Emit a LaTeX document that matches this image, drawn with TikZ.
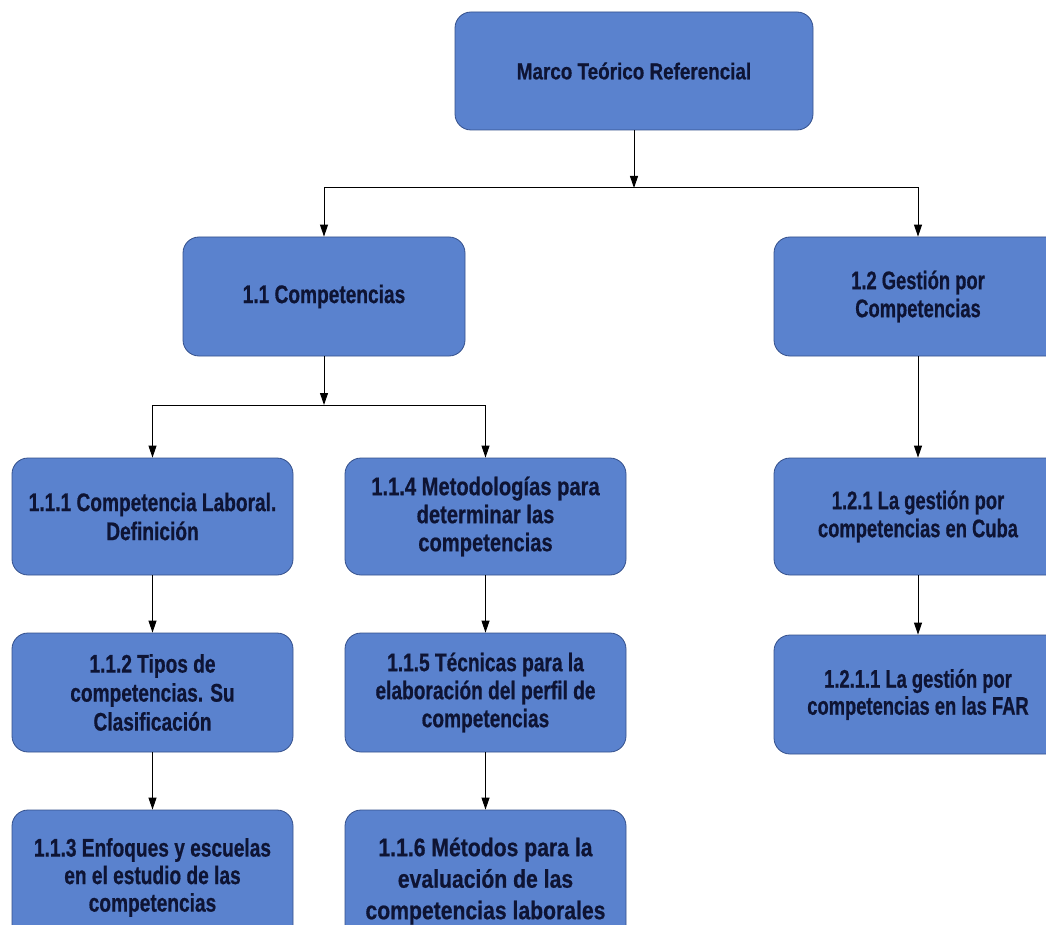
\documentclass[tikz,border=0pt]{standalone}
\usepackage{fontspec}
\newfontfamily\fA{Liberation Sans}[FakeStretch=0.75, BoldFeatures={FakeBold=0.6}]
\newfontfamily\fB{Liberation Sans}[FakeStretch=0.72, BoldFeatures={FakeBold=0.6}]
\newfontfamily\fC{Liberation Sans}[FakeStretch=0.79, BoldFeatures={FakeBold=0.6}]
\newfontfamily\fD{Liberation Sans}[FakeStretch=0.83, BoldFeatures={FakeBold=0.6}]
\newfontfamily\fT{Liberation Sans}[FakeStretch=0.82, BoldFeatures={FakeBold=0.6}]
\usetikzlibrary{arrows.meta}
\definecolor{boxfill}{RGB}{90,130,206}
\definecolor{boxline}{RGB}{52,80,140}
\definecolor{txt}{RGB}{14,20,52}
\tikzset{
  box/.style={draw=boxline, line width=0.8pt, fill=boxfill, rounded corners=16pt,
    minimum width=#1, text=txt, align=center,
    font=\fA\bfseries\fontsize{25.5}{29}\selectfont},
  box/.default=281pt,
  arr/.style={-{Triangle[length=12pt,width=8pt]}, line width=1pt, black}
}
\begin{document}
\begin{tikzpicture}[x=1pt,y=-1pt]
\useasboundingbox (0,0) rectangle (1046,925);
\node[box=358pt, minimum height=118pt, font=\fT\bfseries\fontsize{23}{28}\selectfont] (top) at (634,71) {Marco Teórico Referencial};
\node[box=282pt, minimum height=119pt] (c11) at (324,296.5) {1.1 Competencias};
\node[box=288pt, minimum height=119pt, font=\fB\bfseries\fontsize{25.5}{28}\selectfont] (c12) at (918,296.5) {1.2 Gestión por\\Competencias};
\node[box, minimum height=117pt] (c111) at (152.5,516.5) {1.1.1 Competencia Laboral.\\Definición};
\node[box, minimum height=117pt, font=\fC\bfseries\fontsize{25.5}{28}\selectfont] (c114) at (485.5,516.5) {1.1.4 Metodologías para\\determinar las\\competencias};
\node[box=288pt, minimum height=117pt, font=\fB\bfseries\fontsize{25.5}{28}\selectfont] (c121) at (918,516.5) {1.2.1 La gestión por\\competencias en Cuba};
\node[box, minimum height=119pt] (c112) at (152.5,692.5) {1.1.2 Tipos de\\competencias. Su\\Clasificación};
\node[box, minimum height=119pt, font=\fA\bfseries\fontsize{25.5}{28}\selectfont] (c115) at (485.5,692.5) {1.1.5 Técnicas para la\\elaboración del perfil de\\competencias};
\node[box=288pt, minimum height=119pt, font=\fB\bfseries\fontsize{25.5}{27}\selectfont] (c1211) at (918,694.5) {1.2.1.1 La gestión por\\competencias en las FAR};
\node[box, minimum height=135pt, font=\fA\bfseries\fontsize{25.5}{27.5}\selectfont] (c113) at (152.5,877.5) {1.1.3 Enfoques y escuelas\\en el estudio de las\\competencias};
\node[box, minimum height=142pt, font=\fD\bfseries\fontsize{25.5}{31.5}\selectfont] (c116) at (485.5,881) {1.1.6 Métodos para la\\evaluación de las\\competencias laborales};
\coordinate (j1) at (634,188);
\coordinate (j2) at (324,405);
\draw[arr] (top) -- (j1);
\draw[arr] (j1) -| (c11);
\draw[arr] (j1) -| (c12);
\draw[arr] (c11) -- (j2);
\draw[arr] (j2) -| (c111);
\draw[arr] (j2) -| (c114);
\draw[arr] (c12) -- (c121);
\draw[arr] (c121) -- (c1211);
\draw[arr] (c111) -- (c112);
\draw[arr] (c112) -- (c113);
\draw[arr] (c114) -- (c115);
\draw[arr] (c115) -- (c116);
\end{tikzpicture}
\end{document}
